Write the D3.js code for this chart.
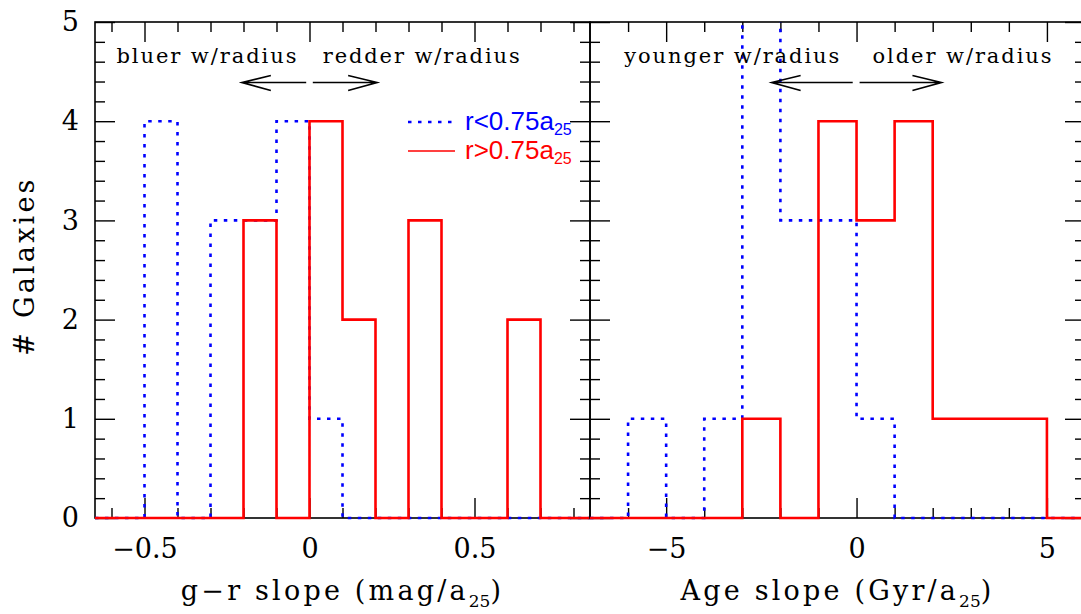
<!DOCTYPE html>
<html>
<head>
<meta charset="utf-8">
<script src="https://cdn.jsdelivr.net/npm/d3@7"></script>
<style>
body { margin: 0; background: #fff; }
svg { display: block; }
</style>
</head>
<body>
<div id="chart"></div>
<script>
// histogram bin edges and counts
var grEdges = [-0.5, -0.4, -0.3, -0.2, -0.1, 0, 0.1, 0.2, 0.3, 0.4, 0.5, 0.6, 0.7];
var grInner = [4, 0, 3, 3, 4, 1, 0, 0, 0, 0, 0, 0];   // r<0.75a25
var grOuter = [0, 0, 0, 3, 0, 4, 2, 0, 3, 0, 0, 2];   // r>0.75a25

var ageEdges = [-6, -5, -4, -3, -2, -1, 0, 1, 2, 3, 4, 5];
var ageInner = [1, 0, 1, 6, 3, 3, 1, 0, 0, 0, 0];
var ageOuter = [0, 0, 0, 1, 0, 4, 3, 4, 1, 1, 1];

var countTicks = [0, 1, 2, 3, 4, 5];
var countMinor = [0.2, 0.4, 0.6, 0.8, 1.2, 1.4, 1.6, 1.8, 2.2, 2.4, 2.6, 2.8, 3.2, 3.4, 3.6, 3.8, 4.2, 4.4, 4.6, 4.8];
var grTicks = [-0.5, 0, 0.5];
var grMinor = [-0.6, -0.4, -0.3, -0.2, -0.1, 0.1, 0.2, 0.3, 0.4, 0.6, 0.7, 0.8];
var ageTicks = [-5, 0, 5];
var ageMinor = [-6, -4, -3, -2, -1, 1, 2, 3, 4];

var legendLabels = ["r<0.75a", "r>0.75a"];

const WIDTH = 1081, HEIGHT = 614;
const TOP = 22, BOTTOM = 518;
const SERIF = "'DejaVu Serif', serif";
const SANS = "'Liberation Sans', Arial, sans-serif";
const RED = "#ff0000", BLUE = "#0000ff";

var svg = d3.select("#chart").append("svg")
    .attr("width", WIDTH)
    .attr("height", HEIGHT);

var y = d3.scaleLinear().domain([0, 5]).range([BOTTOM, TOP]);

const stepPoints = (edges, counts, domain) => {
    var pts = [[domain[0], 0]];
    counts.forEach(function (c, i) { pts.push([edges[i], c]); });
    pts.push([edges[edges.length - 1], 0]);
    pts.push([domain[1], 0]);
    return pts;
};

const drawPanel = (p) => {
    var x = d3.scaleLinear().domain(p.domain).range([p.left, p.right]);
    var g = svg.append("g");

    var clipId = "clip" + p.id;
    svg.append("clipPath").attr("id", clipId)
        .append("rect")
        .attr("x", p.left).attr("y", TOP)
        .attr("width", p.right - p.left).attr("height", BOTTOM - TOP + 4);

    // frame
    g.append("rect")
        .attr("x", p.left).attr("y", TOP)
        .attr("width", p.right - p.left).attr("height", BOTTOM - TOP)
        .attr("fill", "none").attr("stroke", "#000").attr("stroke-width", 1.6);

    var fmt = d => d === 0 ? "0" : d3.format(p.fmt)(d);

    // x axes (bottom with labels, top without)
    var bx = g.append("g").attr("transform", "translate(0," + BOTTOM + ")");
    bx.append("g").call(d3.axisBottom(x).tickValues(p.ticks).tickSize(-20).tickPadding(21).tickFormat(fmt));
    bx.append("g").call(d3.axisBottom(x).tickValues(p.minor).tickSize(-10).tickFormat(""));
    var tx = g.append("g").attr("transform", "translate(0," + TOP + ")");
    tx.append("g").call(d3.axisTop(x).tickValues(p.ticks).tickSize(-20).tickFormat(""));
    tx.append("g").call(d3.axisTop(x).tickValues(p.minor).tickSize(-10).tickFormat(""));

    // y axes on both sides
    var ly = g.append("g").attr("transform", "translate(" + p.left + ",0)");
    ly.append("g").call(d3.axisLeft(y).tickValues(countTicks).tickSize(-20).tickPadding(16)
        .tickFormat(p.yLabels ? d3.format("d") : ""));
    ly.append("g").call(d3.axisLeft(y).tickValues(countMinor).tickSize(-10).tickFormat(""));
    var ry = g.append("g").attr("transform", "translate(" + p.right + ",0)");
    ry.append("g").call(d3.axisRight(y).tickValues(countTicks).tickSize(-20).tickFormat(""));
    ry.append("g").call(d3.axisRight(y).tickValues(countMinor).tickSize(-10).tickFormat(""));

    g.selectAll(".domain").remove();
    g.selectAll(".tick line").attr("stroke", "#000").attr("stroke-width", 1.4);
    g.selectAll(".tick text")
        .attr("font-family", SERIF).attr("font-size", 27).attr("fill", "#000");

    // histograms
    var line = d3.line().x(d => x(d[0])).y(d => y(d[1])).curve(d3.curveStepAfter);
    var hist = svg.append("g").attr("clip-path", "url(#" + clipId + ")");
    hist.append("path")
        .attr("d", line(stepPoints(p.edges, p.inner, p.domain)))
        .attr("fill", "none").attr("stroke", BLUE).attr("stroke-width", 2.6)
        .attr("stroke-dasharray", "3.5,6.5");
    hist.append("path")
        .attr("d", line(stepPoints(p.edges, p.outer, p.domain)))
        .attr("fill", "none").attr("stroke", RED).attr("stroke-width", 2.6);

    // annotations
    p.notes.forEach(function (n) {
        svg.append("text")
            .attr("x", x(n.x)).attr("y", 63)
            .attr("font-family", SERIF).attr("font-size", 21)
            .attr("textLength", n.len).attr("lengthAdjust", "spacing")
            .text(n.text);
    });
    p.arrows.forEach(function (a) {
        var x0 = x(a[0]), x1 = x(a[1]), yy = y(4.39);
        var dir = x1 > x0 ? -1 : 1;
        svg.append("path")
            .attr("d", "M" + x0 + "," + yy + "L" + x1 + "," + yy +
                "M" + (x1 + dir * 29) + "," + (yy - 7) + "L" + x1 + "," + yy + "L" + (x1 + dir * 29) + "," + (yy + 8))
            .attr("fill", "none").attr("stroke", "#000").attr("stroke-width", 1.6);
    });

    // axis title
    var t = svg.append("text")
        .attr("x", (p.left + p.right) / 2).attr("y", 600)
        .attr("text-anchor", "middle")
        .attr("font-family", SERIF).attr("font-size", 27)
        .attr("letter-spacing", 3.2);
    t.append("tspan").text(p.title);
    t.append("tspan").attr("font-size", 17).attr("dy", 7).attr("letter-spacing", 0).text("25");
    t.append("tspan").attr("dy", -7).text(")");
};

drawPanel({
    id: "gr", left: 95, right: 590, domain: [-0.65, 0.85], fmt: ".1f",
    ticks: grTicks, minor: grMinor, yLabels: true,
    edges: grEdges, inner: grInner, outer: grOuter,
    title: "g\u2212r slope (mag/a",
    notes: [{ x: -0.585, text: "bluer w/radius", len: 180 }, { x: 0.04, text: "redder w/radius", len: 197 }],
    arrows: [[-0.01, -0.205], [0.01, 0.205]]
});

drawPanel({
    id: "age", left: 590, right: 1085, domain: [-7, 6], fmt: "d",
    ticks: ageTicks, minor: ageMinor, yLabels: false,
    edges: ageEdges, inner: ageInner, outer: ageOuter,
    title: "Age slope (Gyr/a",
    notes: [{ x: -6.1, text: "younger w/radius", len: 215 }, { x: 0.42, text: "older w/radius", len: 179 }],
    arrows: [[-0.1, -2.23], [0.08, 2.23]]
});

// y axis title
svg.append("text")
    .attr("transform", "translate(34,266) rotate(-90)")
    .attr("text-anchor", "middle")
    .attr("font-family", SERIF).attr("font-size", 27)
    .attr("letter-spacing", 3.2)
    .text("# Galaxies");

// legend (left panel)
var legendY = [122, 151];
var legendColor = [BLUE, RED];
legendLabels.forEach(function (lab, i) {
    svg.append("line")
        .attr("x1", 408).attr("x2", 455)
        .attr("y1", legendY[i]).attr("y2", legendY[i])
        .attr("stroke", legendColor[i]).attr("stroke-width", i === 0 ? 2.6 : 1.6)
        .attr("stroke-dasharray", i === 0 ? "3.5,6.5" : null);
    var t = svg.append("text")
        .attr("x", 465).attr("y", legendY[i] + 8)
        .attr("font-family", SANS).attr("font-size", 26).attr("fill", legendColor[i]);
    t.append("tspan").text(lab);
    t.append("tspan").attr("font-size", 16).attr("dy", 5).text("25");
});
</script>
</body>
</html>
